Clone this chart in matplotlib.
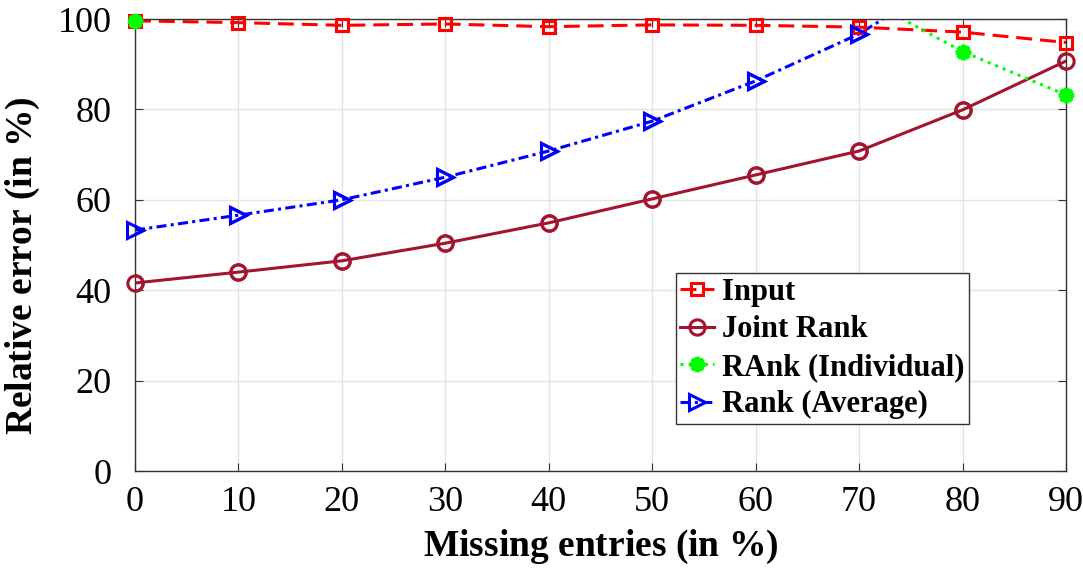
import numpy as np
import matplotlib
matplotlib.use('Agg')
import matplotlib.pyplot as plt

plt.rcParams['font.family'] = ['Liberation Serif', 'DejaVu Serif']
plt.rcParams['mathtext.fontset'] = 'custom'
plt.rcParams['mathtext.rm'] = 'Liberation Serif:bold'
plt.rcParams['mathtext.it'] = 'Liberation Serif:bold:italic'

missing = [0, 10, 20, 30, 40, 50, 60, 70, 80, 90]
input_err = [99.6, 99.2, 98.6, 98.9, 98.3, 98.7, 98.6, 98.2, 97.1, 94.8]
joint_rank = [41.6, 44.0, 46.5, 50.4, 54.9, 60.2, 65.5, 70.8, 79.9, 90.7]
# values between 10 and 70 lie above the axis limit (clipped in the original)
rank_individual = [99.6, 125, 130, 128, 122, 116, 110, 105.2, 92.8, 83.2]
rank_average = [53.3, 56.6, 60.0, 65.0, 70.8, 77.4, 86.3, 96.7, 111, 125]

labels = ['Input', 'Joint Rank', 'RAnk (Individual)', 'Rank (Average)']

fig = plt.figure(figsize=(10.83, 5.78), dpi=100)
ax = fig.add_axes([135 / 1083, (578 - 471) / 578, (1066 - 135) / 1083, (471 - 19) / 578])

lw = 2.2
series = [
    (input_err, dict(ls=(0, (5.2, 2.6)), marker='s', color=(1, 0, 0), ms=9, mfc='none', mew=2.2)),
    (joint_rank, dict(ls='-', marker='o', color=(0.635, 0.078, 0.184), ms=11, mfc='none', mew=2.2)),
    (rank_individual, dict(ls=(0, (1, 1.65)), marker=(8, 2, 0), color=(0, 1, 0), ms=11, mew=3)),
    (rank_average, dict(ls=(0, (3.3, 1.4, 1, 1.4)), marker='>', color=(0, 0, 1), ms=11, mfc='none', mew=2.2)),
]
for (vals, st), lab in zip(series, labels):
    ax.plot(missing, vals, lw=lw, label=lab, **st)
    # markers inside the y-range are drawn unclipped, like the original
    xs = [x for x, v in zip(missing, vals) if v <= 100]
    vs = [v for v in vals if v <= 100]
    mk = dict(st)
    mk['ls'] = 'none'
    ax.plot(xs, vs, clip_on=False, zorder=3, **mk)

ax.set_xlim(0, 90)
ax.set_ylim(0, 100)
ax.set_xticks(range(0, 91, 10))
ax.set_yticks(range(0, 101, 20))
ax.grid(True, color='#e3e3e3', lw=1)
ax.set_axisbelow(True)
ax.tick_params(direction='in', top=True, right=True, labelsize=26, length=6, color='#333333')
ax.tick_params(axis='x', pad=11)
ax.tick_params(axis='y', pad=17)
for s in ax.spines.values():
    s.set_color('#333333')
    s.set_linewidth(1.0)

ax.set_xlabel(r'Missing entries (in $\mathit{\%}$)', fontsize=27, fontweight='bold')
ax.set_ylabel(r'Relative error (in $\mathit{\%}$)', fontsize=27, fontweight='bold')
ax.xaxis.set_label_coords(0.5, -0.125)
ax.yaxis.set_label_coords(-0.1, 0.455)

leg = ax.legend(loc='lower left', bbox_to_anchor=(0.581, 0.104),
                prop={'weight': 'bold', 'size': 22}, handlelength=1.1, handletextpad=0.25,
                borderpad=0.15, labelspacing=0.28, fancybox=False, framealpha=1,
                edgecolor='#333333', borderaxespad=0)
leg.get_frame().set_linewidth(1.0)

fig.savefig('out.png', dpi=100)
